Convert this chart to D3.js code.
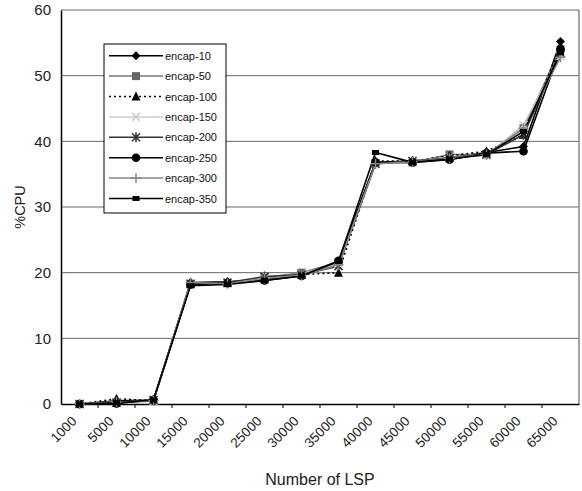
<!DOCTYPE html>
<html><head><meta charset="utf-8">
<script src="https://cdn.jsdelivr.net/npm/d3@7"></script>
<style>body{margin:0;background:#fff}svg{display:block;font-family:"Liberation Sans",Arial,sans-serif}</style>
</head><body><svg id="c" width="582" height="491"></svg>
<script>
const categories = ["1000","5000","10000","15000","20000","25000","30000","35000","40000","45000","50000","55000","60000","65000"];
const yTicks = [0,10,20,30,40,50,60];
const seriesNames = ["encap-10","encap-50","encap-100","encap-150","encap-200","encap-250","encap-300","encap-350"];
const encap10  = [0, 0.5, 0.6, 18.5, 18.6, 19.0, 19.6, 21.5, 36.8, 37.0, 37.5, 38.3, 39.2, 55.2];
const encap50  = [0, 0.2, 0.5, 18.3, 18.4, 19.2, 20.0, 21.6, 36.7, 36.8, 38.0, 38.0, 42.0, 54.0];
const encap100 = [0, 0.8, 0.5, 18.4, 18.5, 19.0, 19.7, 20.0, 37.0, 37.0, 37.8, 38.5, 41.0, 54.5];
const encap150 = [0, 0.3, 0.4, 18.2, 18.3, 19.3, 19.8, 21.4, 36.5, 37.0, 37.6, 37.8, 42.5, 53.0];
const encap200 = [0, 0.2, 0.6, 18.3, 18.5, 19.4, 19.7, 21.0, 36.6, 37.0, 37.5, 38.0, 41.0, 53.5];
const encap250 = [0, 0.1, 0.6, 18.2, 18.4, 18.8, 19.5, 21.8, 36.8, 36.8, 37.2, 38.2, 38.5, 54.0];
const encap300 = [0, 0.3, 0.5, 18.5, 18.3, 19.1, 19.6, 21.2, 36.6, 36.9, 37.4, 38.0, 42.0, 52.8];
const encap350 = [0, 0.2, 0.6, 18.0, 18.2, 18.8, 19.5, 21.7, 38.3, 36.8, 37.3, 38.0, 41.5, 53.5];
const seriesValues = [encap10, encap50, encap100, encap150, encap200, encap250, encap300, encap350];

const styles = [
  {stroke:"#000", dash:null, marker:"diamond", fill:"#000"},
  {stroke:"#777", dash:null, marker:"square", fill:"#666"},
  {stroke:"#000", dash:"2,3", marker:"triangle", fill:"#000"},
  {stroke:"#ccc", dash:null, marker:"x", fill:"#ccc"},
  {stroke:"#333", dash:null, marker:"star", fill:"#333"},
  {stroke:"#000", dash:null, marker:"circle", fill:"#000"},
  {stroke:"#888", dash:null, marker:"plus", fill:"#888"},
  {stroke:"#000", dash:null, marker:"rect", fill:"#000"}
];

const svg = d3.select("#c");
const L = 61, R = 579, T = 10, B = 404;
const x = d3.scaleBand().domain(categories).range([L, R]);
const y = d3.scaleLinear().domain([0, 60]).range([B, T]);

// gridlines
svg.append("g").selectAll("line").data(yTicks.filter(d=>d>0)).join("line")
  .attr("x1", L).attr("x2", R).attr("y1", d=>y(d)).attr("y2", d=>y(d))
  .attr("stroke", "#666").attr("stroke-width", 1);
// right border
svg.append("line").attr("x1", R).attr("x2", R).attr("y1", T).attr("y2", B).attr("stroke", "#888").attr("stroke-width", 1.5);

// y axis
const yAxis = svg.append("g").attr("transform", `translate(${L},0)`)
  .call(d3.axisLeft(y).tickValues(yTicks).tickSize(0).tickPadding(10));
yAxis.select(".domain").attr("stroke", "#000").attr("stroke-width", 1.5);
yAxis.selectAll("text").attr("font-size", 15).attr("fill", "#222");

// x axis
const xAxis = svg.append("g").attr("transform", `translate(0,${B})`)
  .call(d3.axisBottom(x).tickSize(0).tickFormat(""));
xAxis.select(".domain").attr("stroke", "#000").attr("stroke-width", 1.5);
svg.append("g").selectAll("line").data(categories.slice(1)).join("line")
  .attr("x1", d=>x(d)).attr("x2", d=>x(d)).attr("y1", B).attr("y2", B+4)
  .attr("stroke", "#000");
svg.append("g").selectAll("text").data(categories).join("text")
  .attr("transform", d=>`translate(${x(d)+x.bandwidth()/2-2},${B+18}) rotate(-45)`)
  .attr("text-anchor", "end").attr("font-size", 13.5).attr("fill", "#222").text(d=>d);

// titles
svg.append("text").attr("x", (L+R)/2).attr("y", 485).attr("text-anchor", "middle")
  .attr("font-size", 16).attr("fill", "#222").text("Number of LSP");
svg.append("text").attr("transform", `translate(25,${(T+B)/2}) rotate(-90)`).attr("text-anchor", "middle")
  .attr("font-size", 14.5).attr("fill", "#222").text("%CPU");

function drawMarker(g, type, cx, cy, st) {
  const s = 4.5;
  if (type === "diamond") g.append("path").attr("d", `M${cx},${cy-s}L${cx+s},${cy}L${cx},${cy+s}L${cx-s},${cy}Z`).attr("fill", st.fill);
  else if (type === "square") g.append("rect").attr("x", cx-4).attr("y", cy-4).attr("width", 8).attr("height", 8).attr("fill", st.fill);
  else if (type === "triangle") g.append("path").attr("d", `M${cx},${cy-5}L${cx+4.5},${cy+4}L${cx-4.5},${cy+4}Z`).attr("fill", st.fill);
  else if (type === "circle") g.append("circle").attr("cx", cx).attr("cy", cy).attr("r", 4.3).attr("fill", st.fill);
  else if (type === "rect") g.append("rect").attr("x", cx-3.5).attr("y", cy-2.5).attr("width", 7).attr("height", 5).attr("fill", st.fill);
  else if (type === "x") g.append("path").attr("d", `M${cx-4},${cy-4}L${cx+4},${cy+4}M${cx-4},${cy+4}L${cx+4},${cy-4}`).attr("stroke", st.fill).attr("stroke-width", 1.5);
  else if (type === "plus") g.append("path").attr("d", `M${cx-5},${cy}L${cx+5},${cy}M${cx},${cy-5}L${cx},${cy+5}`).attr("stroke", st.fill).attr("stroke-width", 1.5);
  else if (type === "star") g.append("path").attr("d", `M${cx-4},${cy-4}L${cx+4},${cy+4}M${cx-4},${cy+4}L${cx+4},${cy-4}M${cx},${cy-5}L${cx},${cy+5}`).attr("stroke", st.fill).attr("stroke-width", 1.5);
}

const line = d3.line().x((d,i)=>x(categories[i])+x.bandwidth()/2).y(d=>y(d));
const plot = svg.append("g");
seriesValues.forEach((vals, si) => {
  const st = styles[si];
  plot.append("path").datum(vals).attr("d", line).attr("fill", "none")
    .attr("stroke", st.stroke).attr("stroke-width", 1.6).attr("stroke-dasharray", st.dash);
});
seriesValues.forEach((vals, si) => {
  const st = styles[si];
  const g = plot.append("g");
  vals.forEach((v, i) => drawMarker(g, st.marker, x(categories[i])+x.bandwidth()/2, y(v), st));
});

// legend
const lg = svg.append("g");
lg.append("rect").attr("x", 104).attr("y", 44).attr("width", 122).attr("height", 169)
  .attr("fill", "#fff").attr("stroke", "#000").attr("stroke-width", 1);
seriesNames.forEach((name, i) => {
  const st = styles[i];
  const ry = 55.7 + i*20.4;
  lg.append("line").attr("x1", 109).attr("x2", 163).attr("y1", ry).attr("y2", ry)
    .attr("stroke", st.stroke).attr("stroke-width", 1.5).attr("stroke-dasharray", st.dash);
  drawMarker(lg, st.marker, 136, ry, st);
  lg.append("text").attr("x", 165).attr("y", ry+4).attr("font-size", 11).attr("fill", "#111").text(name);
});
</script></body></html>
